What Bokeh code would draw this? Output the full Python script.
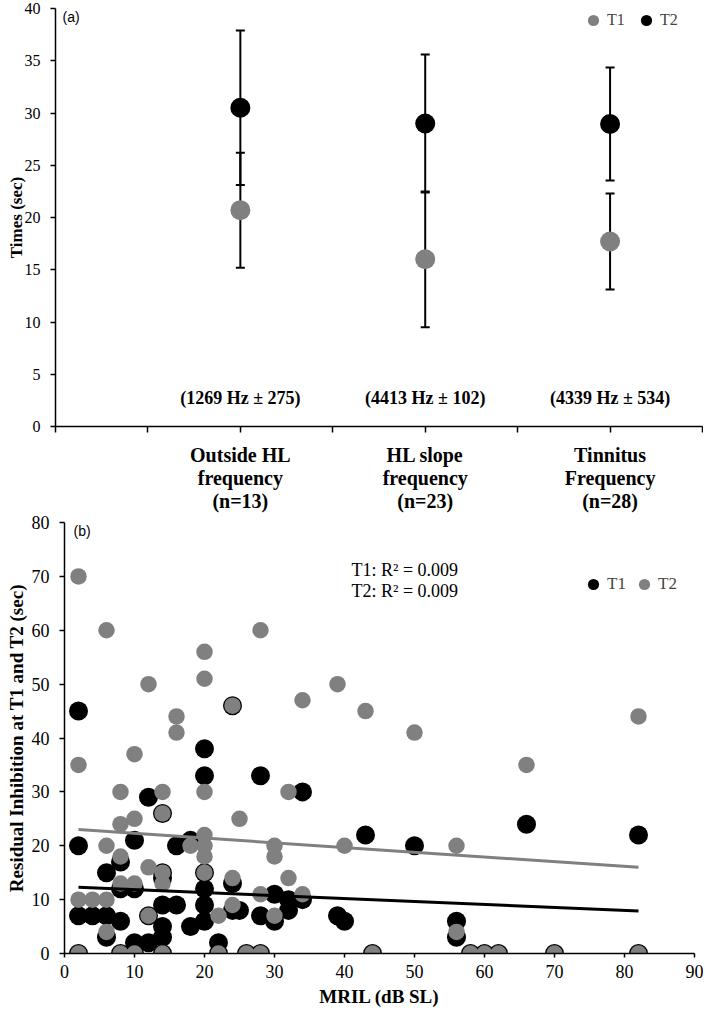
from bokeh.plotting import figure
from bokeh.models import (ColumnDataSource, Whisker, TeeHead, FixedTicker, Label,
                          Legend, LegendItem, Range1d)
from bokeh.embed import file_html
from bokeh.resources import INLINE
from bokeh.core.properties import value

# ---------------- Panel (a) data ----------------
categories = ["Outside HL\nfrequency\n(n=13)", "HL slope\nfrequency\n(n=23)", "Tinnitus\nFrequency\n(n=28)"]
freq_notes = ["(1269 Hz \u00b1 275)", "(4413 Hz \u00b1 102)", "(4339 Hz \u00b1 534)"]
t1_mean = [20.7, 16.0, 17.7]
t1_sd = [5.5, 6.5, 4.6]
t2_mean = [30.5, 29.0, 28.95]
t2_sd = [7.4, 6.6, 5.4]
a_ticks = [0, 5, 10, 15, 20, 25, 30, 35, 40]

# ---------------- Panel (b) data ----------------
t1_mril = [2, 2, 2, 2, 4, 6, 6, 6, 8, 8, 8, 8, 10, 10, 10, 10, 12, 12, 12,
           14, 14, 14, 14, 14, 14, 14, 16, 16, 18, 18, 20, 20, 20, 20, 20, 20,
           22, 22, 24, 24, 24, 25, 26, 28, 28, 28, 30, 30, 32, 32, 34, 34,
           39, 40, 43, 44, 50, 56, 56, 58, 60, 62, 66, 70, 82, 82]
t1_ri = [45, 20, 7, 0, 7, 15, 7, 3, 17, 12, 6, 0, 21, 12, 2, 0, 29, 7, 2,
         26, 15, 14, 9, 5, 3, 0, 20, 9, 21, 5, 38, 33, 15, 12, 9, 6,
         2, 0, 46, 13, 8, 8, 0, 33, 7, 0, 11, 6, 10, 8, 30, 10,
         7, 6, 22, 0, 20, 6, 3, 0, 0, 0, 24, 0, 22, 0]
t2_mril = [2, 2, 2, 2, 4, 6, 6, 6, 6, 8, 8, 8, 8, 8, 10, 10, 10, 10, 12, 12, 12,
           14, 14, 14, 14, 14, 16, 16, 18, 20, 20, 20, 20, 20, 20, 20,
           22, 22, 24, 24, 24, 25, 26, 28, 28, 28, 30, 30, 30, 32, 32, 34, 34,
           39, 40, 43, 44, 50, 56, 56, 58, 60, 62, 66, 70, 82, 82]
t2_ri = [70, 35, 10, 0, 10, 60, 20, 10, 4, 30, 24, 18, 13, 0, 37, 25, 13, 0, 50, 16, 7,
         30, 26, 15, 13, 0, 44, 41, 20, 56, 51, 30, 22, 20, 18, 15,
         7, 0, 46, 14, 9, 25, 0, 60, 11, 0, 20, 18, 7, 30, 14, 47, 11,
         50, 20, 45, 0, 41, 20, 4, 0, 0, 0, 35, 0, 44, 0]
trend_mril = [2, 82]
t1_trend = [12.3, 7.9]
t2_trend = [23.0, 16.0]
r2_labels = ["T1: R\u00b2 = 0.009", "T2: R\u00b2 = 0.009"]
b_xticks = [0, 10, 20, 30, 40, 50, 60, 70, 80, 90]
b_yticks = [0, 10, 20, 30, 40, 50, 60, 70, 80]

GRAY = "#808080"
SERIF = "Liberation Serif"
SANS = "Liberation Sans"


def style_axes(p, tick_font_size):
    for ax in (p.xaxis[0], p.yaxis[0]):
        ax.axis_line_color = "black"
        ax.axis_line_width = 1.5
        ax.major_tick_line_color = "black"
        ax.major_tick_line_width = 1.5
        ax.major_tick_in = 0
        ax.major_tick_out = 5
        ax.minor_tick_line_color = None
        ax.major_label_text_font = SERIF
        ax.major_label_text_font_size = tick_font_size
        ax.major_label_text_color = "black"
        ax.axis_label_text_font = SERIF
        ax.axis_label_text_font_style = "bold"
        ax.axis_label_text_color = "black"
    p.grid.visible = False
    p.outline_line_color = None
    p.background_fill_color = "white"
    p.border_fill_color = "white"


# ---------------- Figure (a) ----------------
n_slots = 2 * len(categories) + 1
cat_x = [2 * (i + 1) for i in range(len(categories))]

pa = figure(width=703, height=514, output_backend="svg", toolbar_location=None,
            x_range=Range1d(0, n_slots), y_range=Range1d(0, 40),
            min_border_left=55, min_border_right=1, min_border_top=8, min_border_bottom=86)
style_axes(pa, "16px")

pa.xaxis[0].ticker = FixedTicker(ticks=list(range(n_slots + 1)))
overrides = {i: "" for i in range(n_slots + 1)}
for xi, lab in zip(cat_x, categories):
    overrides[xi] = lab
pa.xaxis[0].major_label_overrides = overrides
pa.xaxis[0].major_label_text_font_style = "bold"
pa.xaxis[0].major_label_text_font_size = "20px"
pa.xaxis[0].major_label_text_line_height = 1.05
pa.xaxis[0].major_label_standoff = 11
pa.xaxis[0].major_tick_out = 6

pa.yaxis[0].ticker = FixedTicker(ticks=a_ticks)
pa.yaxis[0].axis_label = "Times (sec)"
pa.yaxis[0].axis_label_text_font_size = "17px"
pa.yaxis[0].major_label_standoff = 10
pa.yaxis[0].axis_label_standoff = -4

src_a = ColumnDataSource(dict(
    x=cat_x,
    t1=t1_mean, t1_lo=[m - s for m, s in zip(t1_mean, t1_sd)], t1_hi=[m + s for m, s in zip(t1_mean, t1_sd)],
    t2=t2_mean, t2_lo=[m - s for m, s in zip(t2_mean, t2_sd)], t2_hi=[m + s for m, s in zip(t2_mean, t2_sd)],
    note=freq_notes,
))

for lo, hi in (("t1_lo", "t1_hi"), ("t2_lo", "t2_hi")):
    w = Whisker(base="x", lower=lo, upper=hi, source=src_a, level="underlay",
                line_color="black", line_width=2,
                upper_head=TeeHead(size=9, line_color="black", line_width=2),
                lower_head=TeeHead(size=9, line_color="black", line_width=2))
    pa.add_layout(w)

ra1 = pa.scatter("x", "t1", source=src_a, size=20, fill_color=GRAY, line_color=None)
ra2 = pa.scatter("x", "t2", source=src_a, size=20, fill_color="black", line_color=None)

pa.text(x="x", y=2.7, text="note", source=src_a, text_align="center", text_baseline="middle",
        text_font=value(SERIF), text_font_style="bold", text_font_size="18px", text_color="black")

leg_a = Legend(items=[LegendItem(label="T1", renderers=[ra1]), LegendItem(label="T2", renderers=[ra2])],
               orientation="horizontal", location=(524, 392), glyph_width=28, glyph_height=28,
               label_standoff=0, spacing=5, padding=0, margin=0, border_line_color=None,
               background_fill_alpha=0, label_text_font=SERIF, label_text_font_size="16px")
pa.add_layout(leg_a)

pa.add_layout(Label(x=0.076, y=40, text="(a)", text_font=SANS, text_font_size="14px",
                    text_baseline="top", text_color="black"))

# ---------------- Figure (b) ----------------
pb = figure(width=703, height=500, output_backend="svg", toolbar_location=None,
            x_range=Range1d(0, 90), y_range=Range1d(0, 80),
            min_border_left=64, min_border_right=9, min_border_top=8, min_border_bottom=61)
style_axes(pb, "18px")
pb.xaxis[0].ticker = FixedTicker(ticks=b_xticks)
pb.yaxis[0].ticker = FixedTicker(ticks=b_yticks)
pb.xaxis[0].axis_label = "MRIL (dB SL)"
pb.yaxis[0].axis_label = "Residual Inhibition at T1 and T2 (sec)"
pb.xaxis[0].axis_label_text_font_size = "19px"
pb.yaxis[0].axis_label_text_font_size = "19px"
pb.xaxis[0].major_label_standoff = 7
pb.xaxis[0].axis_label_standoff = 5
pb.yaxis[0].major_label_standoff = 10
pb.yaxis[0].axis_label_standoff = 2
pb.xaxis[0].major_tick_out = 4

rb1 = pb.scatter(t1_mril, t1_ri, size=19, fill_color="black", line_color=None)
rb2 = pb.scatter(t2_mril, t2_ri, size=16.5, fill_color=GRAY, line_color=None)
pb.line(trend_mril, t2_trend, line_color=GRAY, line_width=3)
pb.line(trend_mril, t1_trend, line_color="black", line_width=3)

leg_b = Legend(items=[LegendItem(label="T1", renderers=[rb1]), LegendItem(label="T2", renderers=[rb2])],
               orientation="horizontal", location=(515, 355), glyph_width=28, glyph_height=28,
               label_standoff=0, spacing=3, padding=0, margin=0, border_line_color=None,
               background_fill_alpha=0, label_text_font=SERIF, label_text_font_size="17px")
pb.add_layout(leg_b)

pb.add_layout(Label(x=41, y=71.1, text=r2_labels[0], text_font=SERIF, text_font_size="18px",
                    text_baseline="middle", text_color="black"))
pb.add_layout(Label(x=41, y=67.2, text=r2_labels[1], text_font=SERIF, text_font_size="18px",
                    text_baseline="middle", text_color="black"))
pb.add_layout(Label(x=1.3, y=80, text="(b)", text_font=SANS, text_font_size="14px",
                    text_baseline="top", text_color="black"))

open("out.html", "w").write(file_html([pa, pb], INLINE))
